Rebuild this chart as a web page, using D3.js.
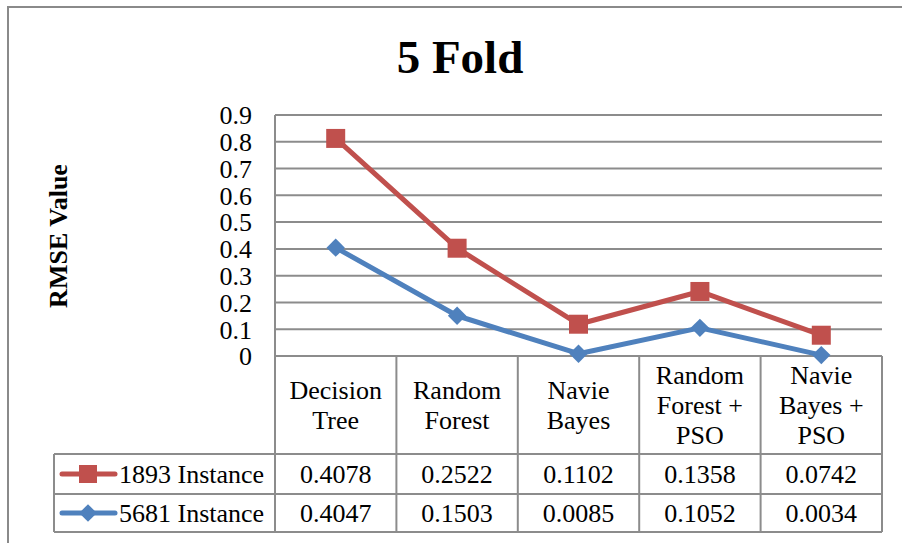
<!DOCTYPE html>
<html>
<head>
<meta charset="utf-8">
<script src="https://cdn.jsdelivr.net/npm/d3@7"></script>
<style>
    body { margin: 0; background: #fff; }
    text { font-family: "Liberation Serif", "Times New Roman", serif; fill: #000; }
</style>
</head>
<body>
<svg id="chart"></svg>
<script>
const categories = ["Decision Tree", "Random Forest", "Navie Bayes", "Random Forest + PSO", "Navie Bayes + PSO"]
const categoryLines = [["Decision", "Tree"], ["Random", "Forest"], ["Navie", "Bayes"], ["Random", "Forest +", "PSO"], ["Navie", "Bayes +", "PSO"]]
const seriesNames = ["5681 Instance", "1893 Instance"]
const values5681 = [0.4047, 0.1503, 0.0085, 0.1052, 0.0034]
const values1893 = [0.4078, 0.2522, 0.1102, 0.1358, 0.0742]
const yTicks = [0, 0.1, 0.2, 0.3, 0.4, 0.5, 0.6, 0.7, 0.8, 0.9]
const seriesColors = {"1893 Instance": "#c0504d", "5681 Instance": "#4f81bd"}

class StackedLineTable {
    constructor() {
        this.visWidth = 902
        this.visHeight = 543
        this.plot = {left: 275, right: 882, top: 115, bottom: 356}
        this.table = {left: 54, headBottom: 454, row1Bottom: 494, row2Bottom: 532}
        this.gridColor = "#8c8c8c"

        this.rows = categories.map((c, i) => ({category: c, "5681 Instance": values5681[i], "1893 Instance": values1893[i]}))
        // the chart is stacked: the red line sits on top of the blue one
        this.stacked = d3.stack().keys(seriesNames)(this.rows)

        this.scaleX = d3.scaleBand().domain(categories).range([this.plot.left, this.plot.right])
        this.scaleY = d3.scaleLinear().domain([0, 0.9]).range([this.plot.bottom, this.plot.top])

        this.svg = d3.select("#chart").attr("width", this.visWidth).attr("height", this.visHeight)

        this.drawFrame()
        this.drawGrid()
        this.drawTable()
        this.drawLines()
    }

    // square for 1893, a square turned 45 degrees for 5681
    marker(name, side) {
        let path = d3.symbol().type(d3.symbolSquare).size(side * side)()
        return {d: path, rot: name === "1893 Instance" ? 0 : 45}
    }

    drawFrame() {
        this.svg.append("rect")
            .attr("x", 8).attr("y", 7)
            .attr("width", 920).attr("height", 560)
            .attr("fill", "none").attr("stroke", "#8a8a8a").attr("stroke-width", 2)

        this.svg.append("text").text("5 Fold")
            .attr("x", 460).attr("y", 73)
            .attr("text-anchor", "middle")
            .attr("font-size", 47).attr("font-weight", "bold")

        this.svg.append("text").text("RMSE Value")
            .attr("transform", `translate(67, 236) rotate(-90)`)
            .attr("text-anchor", "middle")
            .attr("font-size", 26).attr("font-weight", "bold")
    }

    drawGrid() {
        let grid = this.svg.append("g").attr("id", "grid")
        grid.selectAll("line")
            .data(yTicks)
            .join("line")
            .attr("x1", this.plot.left).attr("x2", this.plot.right)
            .attr("y1", d => this.scaleY(d)).attr("y2", d => this.scaleY(d))
            .attr("stroke", this.gridColor).attr("stroke-width", 2)

        grid.selectAll("text")
            .data(yTicks)
            .join("text")
            .text(d => d3.format("")(d))
            .attr("x", 252)
            .attr("y", d => this.scaleY(d))
            .attr("dy", "0.36em")
            .attr("text-anchor", "end")
            .attr("font-size", 26)
    }

    drawTable() {
        let t = this.table
        let tbl = this.svg.append("g").attr("id", "data-table")
        let xs = this.scaleX.domain().map(c => this.scaleX(c)).concat([this.plot.right])

        // vertical separators
        tbl.selectAll("line.v")
            .data(xs)
            .join("line").attr("class", "v")
            .attr("x1", d => d).attr("x2", d => d)
            .attr("y1", (d, i) => i === 0 ? this.plot.top : this.plot.bottom)
            .attr("y2", t.row2Bottom)
            .attr("stroke", this.gridColor).attr("stroke-width", 2)

        tbl.append("line")
            .attr("x1", t.left).attr("x2", t.left)
            .attr("y1", t.headBottom).attr("y2", t.row2Bottom)
            .attr("stroke", this.gridColor).attr("stroke-width", 2)

        tbl.selectAll("line.h")
            .data([t.headBottom, t.row1Bottom, t.row2Bottom])
            .join("line").attr("class", "h")
            .attr("x1", t.left).attr("x2", this.plot.right)
            .attr("y1", d => d).attr("y2", d => d)
            .attr("stroke", this.gridColor).attr("stroke-width", 2)

        // category header
        let lineHeight = 30
        let headMid = (this.plot.bottom + t.headBottom) / 2
        categoryLines.forEach((lines, i) => {
            let cx = this.scaleX(categories[i]) + this.scaleX.bandwidth() / 2
            let label = tbl.append("text")
                .attr("x", cx)
                .attr("text-anchor", "middle")
                .attr("font-size", 26)
            lines.forEach((ln, j) => {
                label.append("tspan").text(ln)
                    .attr("x", cx)
                    .attr("y", headMid + (j - (lines.length - 1) / 2) * lineHeight + 9)
            })
        })

        // value rows: 1893 first, then 5681
        let tableRows = [
            {name: "1893 Instance", values: values1893, y: (t.headBottom + t.row1Bottom) / 2},
            {name: "5681 Instance", values: values5681, y: (t.row1Bottom + t.row2Bottom) / 2}
        ]
        tableRows.forEach(r => {
            let color = seriesColors[r.name]
            let m = this.marker(r.name, r.name === "1893 Instance" ? 18 : 12.5)
            tbl.append("line")
                .attr("x1", 62).attr("x2", 115)
                .attr("y1", r.y).attr("y2", r.y)
                .attr("stroke", color).attr("stroke-width", 5).attr("stroke-linecap", "round")
            tbl.append("path")
                .attr("d", m.d)
                .attr("transform", `translate(88, ${r.y}) rotate(${m.rot})`)
                .attr("fill", color)
            tbl.append("text").text(r.name)
                .attr("x", 119).attr("y", r.y).attr("dy", "0.34em")
                .attr("font-size", 26)
            tbl.selectAll(null)
                .data(r.values)
                .join("text")
                .text(d => d3.format(".4f")(d))
                .attr("x", (d, i) => this.scaleX(categories[i]) + this.scaleX.bandwidth() / 2)
                .attr("y", r.y).attr("dy", "0.34em")
                .attr("text-anchor", "middle")
                .attr("font-size", 26)
        })
    }

    drawLines() {
        let cx = i => this.scaleX(categories[i]) + this.scaleX.bandwidth() / 2
        let lineGenerator = d3.line()
            .x((d, i) => cx(i))
            .y(d => this.scaleY(d[1]))

        let lines = this.svg.append("g").attr("id", "lines")
        lines.selectAll("path")
            .data(this.stacked)
            .join("path")
            .attr("d", d => lineGenerator(d))
            .attr("fill", "none")
            .attr("stroke", d => seriesColors[d.key])
            .attr("stroke-width", 5)
            .attr("stroke-linejoin", "round")

        this.stacked.forEach(s => {
            let m = this.marker(s.key, s.key === "1893 Instance" ? 19 : 13)
            lines.selectAll(null)
                .data(s)
                .join("path")
                .attr("d", m.d)
                .attr("transform", (d, i) => `translate(${cx(i)}, ${this.scaleY(d[1])}) rotate(${m.rot})`)
                .attr("fill", seriesColors[s.key])
        })
    }
}

new StackedLineTable()
</script>
</body>
</html>
